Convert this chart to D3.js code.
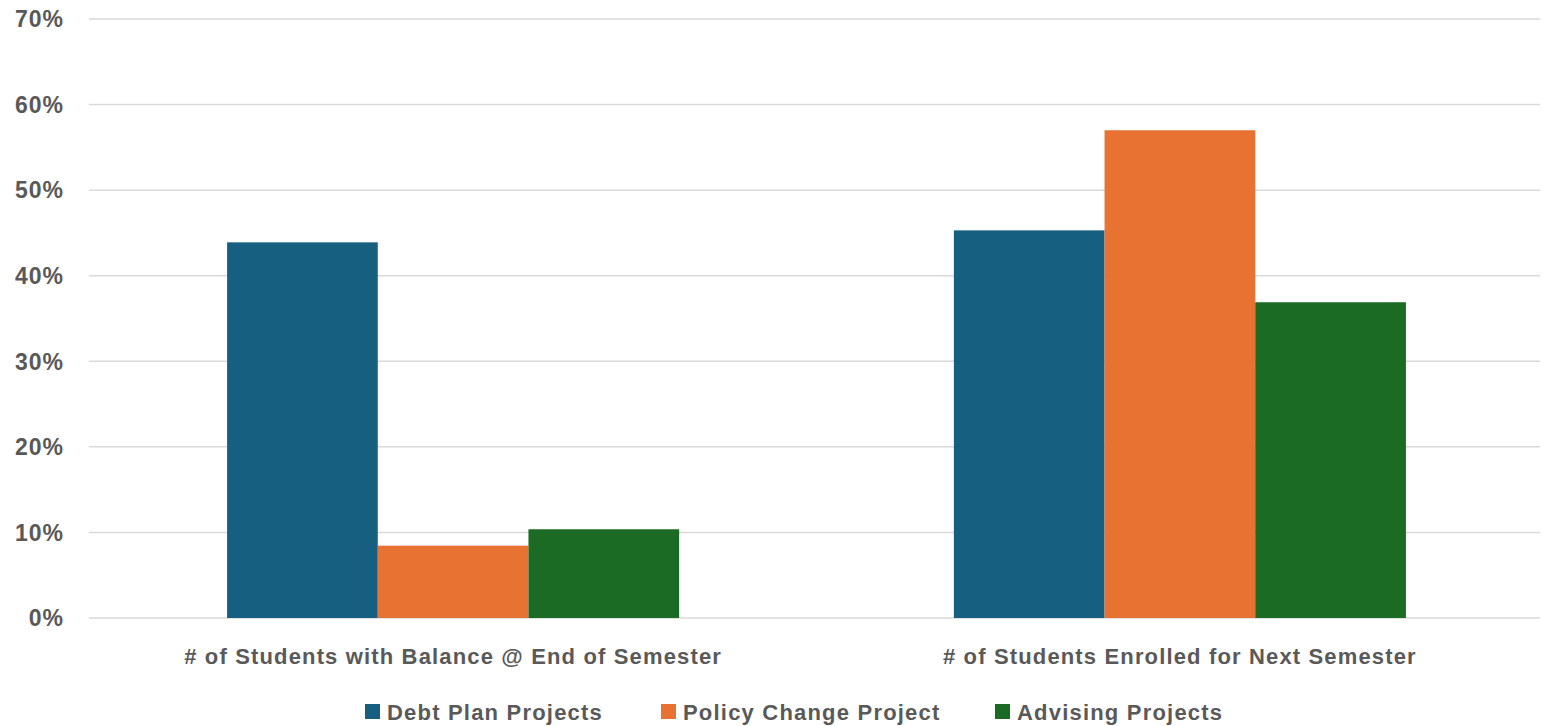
<!DOCTYPE html>
<html><head><meta charset="utf-8">
<script src="https://cdn.jsdelivr.net/npm/d3@7"></script>
<style>
body{margin:0;background:#fff;}
text{font-family:"Liberation Sans",Arial,sans-serif;font-weight:bold;fill:#595959;}
</style></head>
<body><svg id="c" width="1543" height="726"></svg>
<script>
const categories = ["# of Students with Balance @ End of Semester", "# of Students Enrolled for Next Semester"];
const seriesNames = ["Debt Plan Projects", "Policy Change Project", "Advising Projects"];
const debtPlan = [0.439, 0.453];
const policyChange = [0.0845, 0.570];
const advising = [0.1037, 0.369];
const yTicks = [0, 0.1, 0.2, 0.3, 0.4, 0.5, 0.6, 0.7];
const colors = ["#175F80", "#E87232", "#1B6B24"];

(function(){
const seriesValues = [debtPlan, policyChange, advising];
const svg = d3.select("#c");
const mLeft = 89, mRight = 1540, mTop = 19, mBottom = 618;

const y = d3.scaleLinear().domain([0, 0.7]).range([mBottom, mTop]);
const x0 = d3.scaleBand().domain(categories).range([mLeft, 1544]).paddingInner(0.378).paddingOuter(0.19);
const x1 = d3.scaleBand().domain(seriesNames).range([0, x0.bandwidth()]);

svg.append("g").selectAll("line").data(yTicks).join("line")
  .attr("x1", mLeft).attr("x2", mRight)
  .attr("y1", d => y(d)).attr("y2", d => y(d))
  .attr("stroke", "#D9D9D9").attr("stroke-width", 1.5);

svg.append("g").selectAll("text").data(yTicks).join("text")
  .attr("x", 64).attr("y", d => y(d)).attr("dy", "0.36em")
  .attr("text-anchor", "end").attr("font-size", 23)
  .attr("letter-spacing", "1px")
  .text(d => d3.format(".0%")(d));

const rows = [];
categories.forEach((c, i) => seriesNames.forEach((s, j) => rows.push({c, s, v: seriesValues[j][i], col: colors[j]})));
svg.append("g").selectAll("rect").data(rows).join("rect")
  .attr("x", d => x0(d.c) + x1(d.s))
  .attr("width", x1.bandwidth())
  .attr("y", d => y(d.v))
  .attr("height", d => y(0) - y(d.v))
  .attr("fill", d => d.col);

svg.append("g").selectAll("text").data(categories).join("text")
  .attr("x", d => x0(d) + x0.bandwidth() / 2).attr("y", 664)
  .attr("text-anchor", "middle").attr("font-size", 22)
  .attr("letter-spacing", "1.15px")
  .text(d => d);

const legX = [365, 661, 995];
const leg = svg.append("g").selectAll("g").data(seriesNames).join("g")
  .attr("transform", (d, i) => `translate(${legX[i]},712)`);
leg.append("rect").attr("x", 0).attr("y", -8).attr("width", 15).attr("height", 15)
  .attr("fill", (d, i) => colors[i]);
leg.append("text").attr("x", 22).attr("y", 0).attr("dy", "0.36em")
  .attr("font-size", 22).attr("letter-spacing", "1.2px").text(d => d);
})();
</script></body></html>
